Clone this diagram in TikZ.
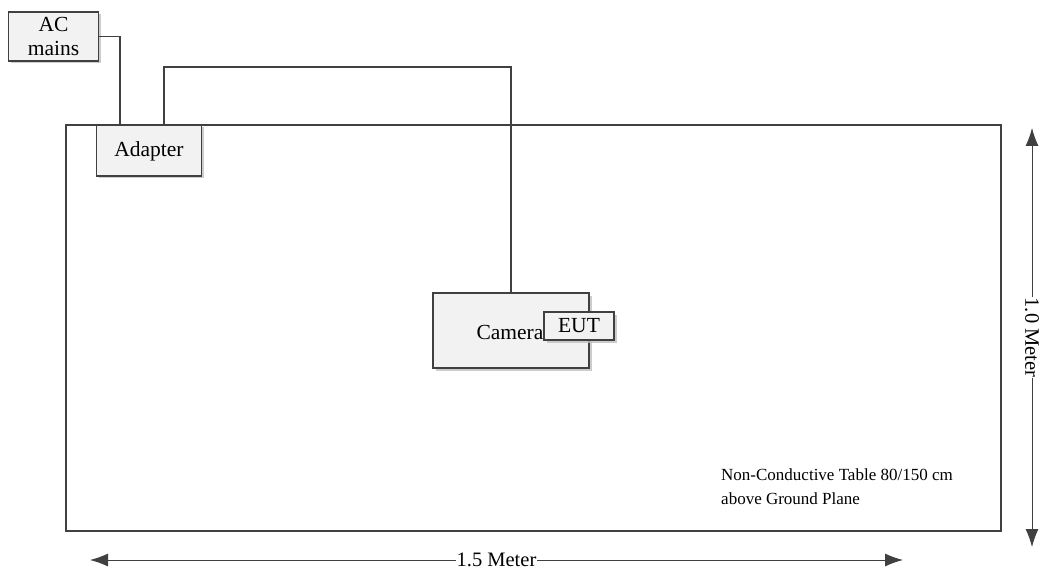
\documentclass[tikz,border=0pt]{standalone}
\usepackage{fontspec}
\setmainfont{Liberation Serif}
\usetikzlibrary{shadows,arrows.meta}
\definecolor{ln}{HTML}{404040}
\definecolor{bx}{HTML}{F2F2F2}
\begin{document}
\begin{tikzpicture}[x=1pt,y=-1pt,
  box/.style={draw=ln,line width=1.8pt,fill=bx,inner sep=0pt,
    drop shadow={shadow xshift=2.5pt,shadow yshift=-2.5pt,fill=black!25,opacity=0.8}},
  wire/.style={draw=ln,line width=1.2pt},
  dim/.style={draw=ln,line width=0.9pt,{Latex[length=18pt,width=13pt]}-{Latex[length=18pt,width=13pt]}},
  lbl/.style={font=\fontsize{21.5}{24}\selectfont},
  dl/.style={fill=white,inner sep=0.5pt,font=\fontsize{20.5}{22}\selectfont}]
\useasboundingbox (0,0) rectangle (1041,572);
\node[draw=ln,line width=2.6pt,minimum width=935pt,minimum height=406pt,inner sep=0pt] (table) at (533.5,328) {};
\node[box,minimum width=105pt,minimum height=51pt] (adapter) at (149,150.5) {};
\node[lbl] (adaptertext) at (149,151) {Adapter};
\node[box,minimum width=90pt,minimum height=49pt,align=center,lbl] (ac) at (53.5,36.5) {AC\\mains};
\coordinate (w1) at (120,125);
\coordinate (w2) at (164,125);
\coordinate (w2top) at (164,67);
\node[box,minimum width=156pt,minimum height=75pt] (cam) at (511,330.5) {};
\node[lbl] (camtext) at (510,332) {Camera};
\node[box,minimum width=70pt,minimum height=28pt,lbl] (eut) at (579,326) {EUT};
\draw[wire] (ac.east) -| (w1);
\draw[wire] (w2) -- (w2top) -| (cam.north);
\node[align=left,anchor=west,inner sep=0pt,font=\fontsize{17}{24}\selectfont] (note) at (721,487) {Non-Conductive Table 80/150 cm\\above Ground Plane};
\coordinate (ht) at (90,560);
\coordinate (hb) at (903,560);
\draw[dim] (ht) -- (hb) node[midway,dl] (hl) {1.5 Meter};
\coordinate (vt) at (1032,128);
\coordinate (vb) at (1032,547);
\draw[dim] (vt) -- (vb) node[midway,dl,rotate=-90] (vl) {1.0 Meter};
\end{tikzpicture}
\end{document}
